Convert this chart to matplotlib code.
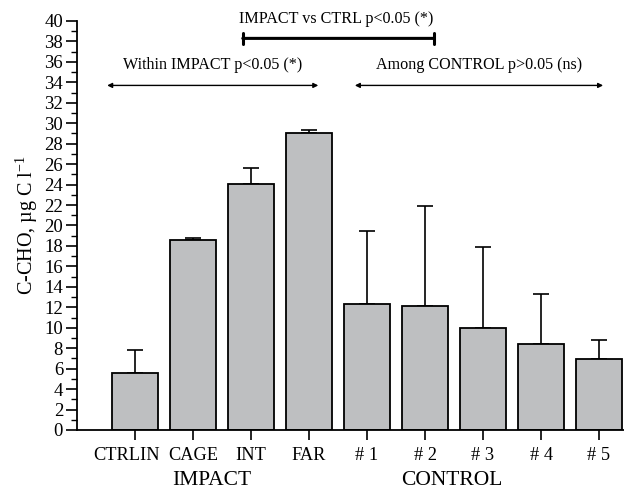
import matplotlib
matplotlib.use("Agg")
import matplotlib.pyplot as plt
import matplotlib.transforms as mtransforms
from matplotlib.ticker import MultipleLocator

categories = ["CTRLIN", "CAGE", "INT", "FAR", "# 1", "# 2", "# 3", "# 4", "# 5"]
means = [5.6, 18.6, 24.1, 29.0, 12.3, 12.1, 10.0, 8.4, 6.9]
upper = [7.8, 18.8, 25.6, 29.3, 19.5, 21.9, 17.9, 13.3, 8.8]
group_labels = ["IMPACT", "CONTROL"]

plt.rcParams['font.family'] = ['Liberation Serif', 'DejaVu Serif']

fig = plt.figure(figsize=(6.24, 4.91), dpi=100)
ax = fig.add_axes([77/624, 61/491, 1 - 77/624, (430-21)/491])

x = list(range(len(categories)))
err = [u - m for u, m in zip(upper, means)]
ax.bar(x, means, width=0.8, color="#bebfc1", edgecolor="black", linewidth=1.3, zorder=2)
ax.errorbar(x, means, yerr=[[0]*len(err), err], fmt="none", ecolor="black",
            elinewidth=1.2, capsize=6, capthick=1.2, zorder=1)

ax.set_xlim(-1, 8.43)
ax.set_ylim(0, 40)
ax.yaxis.set_major_locator(MultipleLocator(2))
ax.yaxis.set_minor_locator(MultipleLocator(1))
ax.set_xticks(x)
ax.set_xticklabels(categories, fontsize=13.2)
ax.tick_params(axis='y', which='major', length=8, width=1.2, labelsize=13.5, pad=2)
ax.tick_params(axis='y', which='minor', length=4, width=1.0)
ax.tick_params(axis='x', which='major', length=7, width=1.2, pad=5)
for s in ['top', 'right']:
    ax.spines[s].set_visible(False)
for s in ['left', 'bottom']:
    ax.spines[s].set_linewidth(1.3)

# shift first label slightly left as in the reference
lbl0 = ax.get_xticklabels()[0]
lbl0.set_transform(lbl0.get_transform() + mtransforms.ScaledTranslation(-8/100, 0, fig.dpi_scale_trans))

ax.set_ylabel("C-CHO, µg C l$^{\\mathregular{-1}}$", fontsize=14.5, labelpad=3)

# group labels
ax.text(1.33, -0.123, group_labels[0], transform=ax.get_xaxis_transform(),
        ha='center', va='center', fontsize=15.5)
ax.text(5.47, -0.123, group_labels[1], transform=ax.get_xaxis_transform(),
        ha='center', va='center', fontsize=15.5)

# annotations
ax.text(3.47, 40.2, "IMPACT vs CTRL p<0.05 (*)", ha='center', va='center',
        fontsize=11.6, clip_on=False)
ax.annotate("", xy=(1.81, 38.3), xytext=(5.2, 38.3),
            arrowprops=dict(arrowstyle='|-|', mutation_scale=4, lw=2.2, color='black'),
            annotation_clip=False)
ax.text(1.33, 35.7, "Within IMPACT p<0.05 (*)", ha='center', va='center', fontsize=11.6)
ax.annotate("", xy=(-0.48, 33.7), xytext=(3.16, 33.7),
            arrowprops=dict(arrowstyle='<|-|>', mutation_scale=7, lw=1.0, color='black',
                            shrinkA=0, shrinkB=0))
ax.text(5.93, 35.7, "Among CONTROL p>0.05 (ns)", ha='center', va='center', fontsize=11.6)
ax.annotate("", xy=(3.79, 33.7), xytext=(8.07, 33.7),
            arrowprops=dict(arrowstyle='<|-|>', mutation_scale=7, lw=1.0, color='black',
                            shrinkA=0, shrinkB=0))

fig.savefig("out.png", dpi=100)
